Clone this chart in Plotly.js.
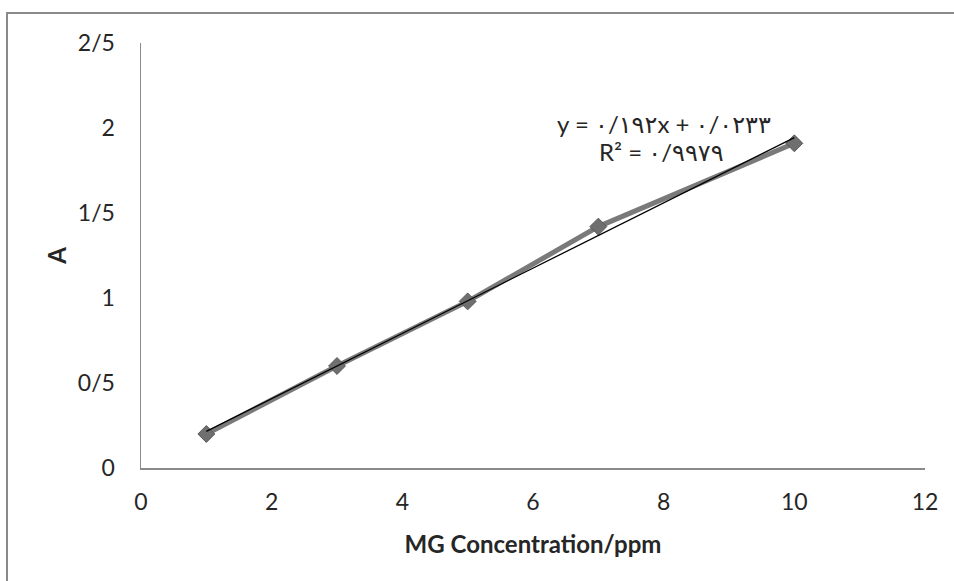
<!DOCTYPE html>
<html>
<head>
<meta charset="utf-8">
<script src="https://cdn.plot.ly/plotly-3.0.1.min.js"></script>
<style>
  html, body { margin: 0; padding: 0; background: #fff; }
  #wrap { position: relative; width: 954px; height: 581px; overflow: hidden; }
  #chart { position: absolute; left: 0; top: 0; width: 954px; height: 581px; }
  #frame { position: absolute; left: 6px; top: 12px; width: 960px; height: 600px;
           border-left: 2px solid #8a8a8a; border-top: 2px solid #8a8a8a; pointer-events: none; }
</style>
</head>
<body>
<div id="wrap">
  <div id="chart"></div>
  <div id="frame"></div>
</div>
<script>
// Data
const concentration = [1, 3, 5, 7, 10];
const absorbance = [0.20, 0.60, 0.98, 1.42, 1.91];

const xTickVals = [0, 2, 4, 6, 8, 10, 12];
const xTickText = ['0', '2', '4', '6', '8', '10', '12'];
const yTickVals = [0, 0.5, 1, 1.5, 2, 2.5];
const yTickText = ['0', '0/5', '1', '1/5', '2', '2/5'];

const xTitle = 'MG Concentration/ppm';
const yTitle = 'A';
const eqLine1 = 'y = ۰/۱۹۲x + ۰/۰۲۳۳';
const eqLine2 = 'R² = ۰/۹۹۷۹';

// Linear least-squares trendline computed from the data
const n = concentration.length;
const mx = concentration.reduce((a, b) => a + b, 0) / n;
const my = absorbance.reduce((a, b) => a + b, 0) / n;
let sxy = 0, sxx = 0;
for (let i = 0; i < n; i++) {
  sxy += (concentration[i] - mx) * (absorbance[i] - my);
  sxx += (concentration[i] - mx) ** 2;
}
const slope = sxy / sxx;
const intercept = my - slope * mx;
const trendX = [concentration[0], concentration[n - 1]];
const trendY = trendX.map(x => slope * x + intercept);

const FONT = 'Lato, "DejaVu Sans", sans-serif';
const TXT = '#262626';

const data = [
  {
    x: concentration, y: absorbance, type: 'scatter', mode: 'lines+markers',
    line: { color: '#7a7a7a', width: 5 },
    marker: { symbol: 'diamond', size: 13, color: '#6f6f6f', line: { color: '#5a5a5a', width: 1 } },
    showlegend: false, hoverinfo: 'x+y'
  },
  {
    x: trendX, y: trendY, type: 'scatter', mode: 'lines',
    line: { color: '#000000', width: 1.3 },
    showlegend: false, hoverinfo: 'skip'
  }
];

const layout = {
  width: 954, height: 581,
  margin: { l: 141, r: 29, t: 43, b: 113, pad: 0 },
  paper_bgcolor: '#ffffff', plot_bgcolor: '#ffffff',
  font: { family: FONT, size: 23, color: TXT },
  showlegend: false,
  xaxis: {
    range: [0, 12], tickvals: xTickVals, ticktext: xTickText,
    showgrid: false, zeroline: false, showline: true, linecolor: '#8a8a8a', linewidth: 1.5,
    ticks: 'outside', ticklen: 13, tickcolor: 'rgba(0,0,0,0)',
    tickfont: { family: FONT, size: 23, color: TXT },
    title: { text: '<b>' + xTitle + '</b>', font: { family: FONT, size: 24, color: TXT }, standoff: 22 },
    fixedrange: true
  },
  yaxis: {
    range: [0, 2.5], tickvals: yTickVals, ticktext: yTickText,
    showgrid: false, zeroline: false, showline: true, linecolor: '#8a8a8a', linewidth: 1.5,
    ticks: 'outside', ticklen: 20, tickcolor: 'rgba(0,0,0,0)',
    tickfont: { family: FONT, size: 23, color: TXT },
    title: { text: '<b>' + yTitle + '</b>', font: { family: FONT, size: 24, color: TXT }, standoff: 4 },
    fixedrange: true
  },
  annotations: [
    {
      xref: 'x', yref: 'y', x: 8.01, y: 2.025, xanchor: 'center', yanchor: 'middle',
      text: eqLine1, showarrow: false, font: { family: FONT, size: 24, color: TXT }
    },
    {
      xref: 'x', yref: 'y', x: 7.97, y: 1.86, xanchor: 'center', yanchor: 'middle',
      text: eqLine2, showarrow: false, font: { family: FONT, size: 24, color: TXT }
    }
  ]
};

Plotly.newPlot('chart', data, layout, { displayModeBar: false, staticPlot: true });
</script>
</body>
</html>
